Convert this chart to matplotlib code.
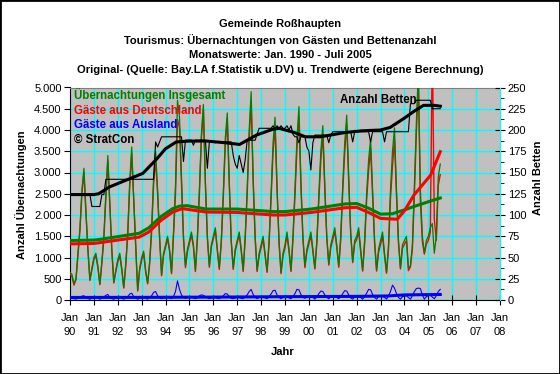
import matplotlib.pyplot as plt
import numpy as np
import pandas as pd
from matplotlib.ticker import FuncFormatter, MultipleLocator
from matplotlib.patches import Rectangle

plt.rcParams['font.family'] = ['Liberation Sans', 'DejaVu Sans']

# monthly values Jan 1990 - Jul 2005
months = pd.date_range('1990-01', '2005-07', freq='MS')

insgesamt = [
    650, 600, 380, 500, 1100, 1700, 2600, 3100, 2100, 1200, 480, 750,
    1000, 1100, 800, 380, 900, 1500, 2500, 3400, 2300, 1200, 420, 700,
    950, 1100, 750, 300, 850, 1600, 2800, 3600, 2400, 1300, 230, 750,
    1000, 1150, 700, 400, 900, 1700, 2900, 3500, 2600, 1500, 600, 1100,
    1300, 1500, 1200, 650, 1600, 2700, 4700, 4300, 2900, 1500, 800, 1200,
    1400, 1600, 1300, 700, 1500, 2600, 3900, 4600, 2800, 1500, 800, 1300,
    1500, 1700, 1200, 750, 1400, 2500, 3800, 4400, 2800, 1400, 750, 1200,
    1400, 1600, 1200, 700, 1500, 2600, 4000, 4900, 2900, 1500, 700, 1100,
    1300, 1500, 1100, 680, 1400, 2500, 3700, 4300, 2700, 1400, 650, 1100,
    1300, 1600, 1200, 700, 1500, 2600, 3800, 4550, 2800, 1500, 800, 1200,
    1400, 1600, 1200, 750, 1400, 2500, 3500, 4100, 2700, 1500, 850, 1300,
    1500, 1700, 1300, 800, 1500, 2700, 3700, 4350, 2900, 1600, 900, 1400,
    1500, 1700, 1200, 700, 1400, 2500, 3300, 3800, 2600, 1400, 700, 1200,
    1400, 1600, 1100, 650, 1300, 2600, 3500, 4050, 2600, 1400, 750, 1300,
    1400, 1500, 750, 800, 1300, 2700, 4200, 5400, 2600, 1500, 1100, 1400,
    1500, 1700, 1800, 1100, 1500, 2900, 3200,
]

deutschland = [
    610, 550, 350, 480, 1060, 1640, 2510, 3000, 2040, 1170, 460, 710,
    950, 1040, 760, 360, 860, 1430, 2390, 3270, 2240, 1170, 400, 660,
    900, 1040, 710, 280, 800, 1520, 2660, 3440, 2320, 1260, 210, 710,
    940, 1090, 660, 380, 840, 1600, 2720, 3300, 2500, 1450, 570, 1050,
    1240, 1440, 1150, 620, 1520, 2500, 4250, 4050, 2780, 1440, 760, 1140,
    1340, 1530, 1250, 670, 1440, 2500, 3780, 4490, 2720, 1450, 770, 1250,
    1450, 1640, 1160, 720, 1340, 2400, 3650, 4260, 2720, 1360, 720, 1150,
    1340, 1540, 1160, 670, 1430, 2480, 3800, 4650, 2770, 1440, 670, 1040,
    1230, 1430, 1050, 650, 1320, 2360, 3480, 4070, 2580, 1340, 620, 1040,
    1230, 1520, 1150, 670, 1420, 2450, 3550, 4310, 2670, 1440, 760, 1130,
    1320, 1520, 1140, 730, 1330, 2350, 3290, 3900, 2580, 1440, 820, 1230,
    1420, 1610, 1240, 770, 1420, 2550, 3480, 4140, 2780, 1550, 880, 1330,
    1420, 1610, 1140, 680, 1320, 2340, 3050, 3560, 2470, 1340, 680, 1120,
    1310, 1500, 1040, 630, 1200, 2400, 3150, 3770, 2450, 1340, 730, 1220,
    1310, 1400, 690, 780, 1200, 2500, 3930, 5120, 2330, 1380, 1080, 1320,
    1400, 1590, 6000, 1900, 1400, 2700, 2950,
]

ausland = [
    40, 50, 30, 20, 40, 60, 90, 100, 60, 30, 20, 40,
    50, 60, 40, 20, 40, 70, 110, 130, 60, 30, 20, 40,
    50, 60, 40, 20, 50, 80, 140, 160, 80, 40, 20, 40,
    60, 60, 40, 20, 60, 100, 180, 200, 100, 50, 30, 50,
    60, 60, 50, 30, 80, 200, 450, 250, 120, 60, 40, 60,
    60, 70, 50, 30, 60, 100, 120, 110, 80, 50, 30, 50,
    50, 60, 40, 30, 60, 100, 150, 140, 80, 40, 30, 50,
    60, 60, 40, 30, 70, 120, 200, 250, 130, 60, 30, 60,
    70, 70, 50, 30, 80, 140, 220, 230, 120, 60, 30, 60,
    70, 80, 50, 30, 80, 150, 250, 240, 130, 60, 40, 70,
    80, 80, 60, 20, 70, 150, 210, 200, 120, 60, 30, 70,
    80, 90, 60, 30, 80, 150, 220, 210, 120, 50, 20, 70,
    80, 90, 60, 20, 80, 160, 250, 240, 130, 60, 20, 80,
    90, 100, 60, 20, 100, 200, 350, 280, 150, 60, 20, 80,
    90, 100, 60, 20, 100, 200, 270, 280, 270, 120, 20, 80,
    100, 110, 70, 30, 100, 200, 250,
]

betten = [
    124, 124, 124, 124, 124, 124, 124, 124, 124, 124, 124, 110,
    110, 110, 110, 110, 124, 124, 142, 142, 142, 142, 142, 142,
    142, 142, 142, 142, 142, 142, 142, 142, 142, 142, 142, 142,
    142, 142, 142, 142, 142, 142, 142, 186, 180, 186, 192, 192,
    192, 192, 192, 192, 192, 192, 192, 192, 192, 163, 188, 188,
    188, 188, 182, 188, 188, 188, 188, 188, 188, 155, 186, 186,
    186, 185, 186, 186, 186, 186, 186, 186, 186, 186, 170, 160,
    155, 170, 160, 150, 165, 188, 188, 188, 188, 188, 195, 202,
    202, 202, 202, 202, 202, 202, 205, 200, 205, 202, 205, 202,
    202, 205, 200, 205, 195, 192, 192, 185, 192, 192, 192, 180,
    175, 153, 185, 194, 194, 194, 194, 194, 194, 194, 185, 194,
    198, 198, 198, 198, 198, 198, 198, 198, 198, 198, 186, 198,
    198, 198, 198, 198, 198, 198, 198, 186, 198, 198, 198, 198,
    198, 198, 186, 198, 198, 198, 198, 198, 198, 198, 198, 198,
    198, 198, 198, 231, 231, 231, 235, 235, 235, 235, 235, 235,
    235, 235, 225, 225, 225, 225, 225,
]

# trend values (eigene Berechnung), read at these dates
trend_x_ins = [1990.0, 1991.0, 1991.3, 1992.1, 1992.9, 1993.3, 1993.8, 1994.3, 1994.6,
               1994.9, 1995.7, 1997.0, 1998.5, 1999.0, 2000.1, 2001.5, 2002.0, 2002.5,
               2003.0, 2003.5, 2004.0, 2004.4, 2005.1, 2005.5]
trend_ins = [1400, 1410, 1430, 1500, 1570, 1700, 1960, 2150, 2210,
             2220, 2140, 2140, 2080, 2080, 2140, 2260, 2270, 2160,
             2020, 2030, 2120, 2200, 2330, 2400]

trend_x_de = [1990.0, 1991.0, 1992.0, 1992.9, 1993.3, 1993.8, 1994.3, 1994.7, 1995.7,
              1997.0, 1998.5, 1999.0, 2000.1, 2001.5, 2002.0, 2002.5, 2003.0, 2003.7,
              2004.0, 2004.4, 2005.1, 2005.5]
trend_de = [1320, 1330, 1410, 1480, 1600, 1870, 2070, 2150, 2070,
            2060, 2000, 2000, 2060, 2170, 2180, 2060, 1920, 1900,
            2100, 2470, 2940, 3490]

trend_x_aus = [1990.0, 1993.0, 1996.0, 1999.0, 2002.0, 2003.3, 2004.0, 2005.5]
trend_aus = [60, 62, 68, 78, 85, 95, 120, 130]

trend_x_bet = [1990.0, 1991.0, 1991.2, 1991.65, 1992.35, 1993.05, 1993.6, 1994.0, 1994.45,
               1995.0, 1995.7, 1996.5, 1997.1, 1997.8, 1998.5, 1998.75, 1999.4, 1999.85,
               2000.5, 2001.5, 2002.2, 2003.0, 2003.4, 2004.0, 2004.4, 2004.8, 2005.25, 2005.5]
trend_bet = [124, 124, 125, 133, 141, 149, 165, 178, 186,
             187, 187, 185, 183, 194, 201, 202, 197, 192,
             192, 197, 199, 200, 203, 214, 222, 229, 229, 228]

year_ticks = list(range(1990, 2009))

t = months.year + (months.month - 1) / 12

W, H = 560, 374
fig = plt.figure(figsize=(W / 100, H / 100), dpi=100)
ax = fig.add_axes([70 / W, 1 - 300 / H, 430 / W, 212.5 / H])
ax.set_facecolor('#C0C0C0')

ax.plot(t, deutschland, color='#FF0000', lw=1.0, zorder=3)
ax.plot(t, insgesamt, color='#008000', lw=0.9, zorder=4)
ax.plot(t, ausland, color='#0000FF', lw=0.8, zorder=4)
ax.plot(trend_x_ins, trend_ins, color='#008000', lw=2.2, zorder=5)
ax.plot(trend_x_de, trend_de, color='#FF0000', lw=2.2, zorder=5)
ax.plot(trend_x_aus, trend_aus, color='#0000FF', lw=2.2, zorder=5)

ax.set_xlim(1990, 2008)
ax.set_ylim(0, 5000)
ax.set_xticks(year_ticks)
ax.set_xticklabels(['Jan\n%02d' % (y % 100) for y in year_ticks], fontsize=8, linespacing=1.5)
ax.yaxis.set_major_locator(MultipleLocator(500))
ax.yaxis.set_major_formatter(FuncFormatter(lambda v, p: f'{int(v):,}'.replace(',', '.')))
ax.tick_params(axis='y', labelsize=8, direction='out', length=4, pad=2)
ax.tick_params(axis='x', direction='inout', length=7, pad=6)
ax.grid(True, color='#00FFFF', lw=1)
ax.set_axisbelow(True)
for side in ['left', 'bottom']:
    ax.spines[side].set_color('black')
ax.spines['top'].set_color('#808080')
ax.spines['right'].set_visible(False)

ax2 = ax.twinx()
ax2.plot(t, betten, color='black', lw=0.8, zorder=3)
ax2.plot(trend_x_bet, trend_bet, color='black', lw=2.2, zorder=4)
ax2.set_ylim(0, 250)
ax2.yaxis.set_major_locator(MultipleLocator(25))
ax2.yaxis.set_minor_locator(MultipleLocator(12.5))
ax2.tick_params(axis='y', which='major', labelsize=8, direction='inout', length=7, pad=2)
ax2.tick_params(axis='y', which='minor', direction='out', length=3)
ax2.spines['right'].set_color('#00FFFF')
for side in ['left', 'top', 'bottom']:
    ax2.spines[side].set_visible(False)

def fy(y):
    return 1 - y / H

fig.text(280 / W, fy(24), 'Gemeinde Roßhaupten', ha='center', va='center', fontsize=8, fontweight='bold')
fig.text(280 / W, fy(40), 'Tourismus: Übernachtungen von Gästen und Bettenanzahl', ha='center', va='center', fontsize=8, fontweight='bold')
fig.text(280 / W, fy(55), 'Monatswerte: Jan. 1990 - Juli 2005', ha='center', va='center', fontsize=8, fontweight='bold')
fig.text(280 / W, fy(70), 'Original- (Quelle: Bay.LA f.Statistik u.DV) u. Trendwerte (eigene Berechnung)', ha='center', va='center', fontsize=8, fontweight='bold')

fig.text(74 / W, fy(95), 'Übernachtungen Insgesamt', color='#008000', ha='left', va='center', fontsize=8.3, fontweight='bold')
fig.text(74 / W, fy(110.5), 'Gäste aus Deutschland', color='#FF0000', ha='left', va='center', fontsize=8.3, fontweight='bold')
fig.text(74 / W, fy(125), 'Gäste aus Ausland', color='#0000FF', ha='left', va='center', fontsize=8.3, fontweight='bold')
fig.text(74 / W, fy(139.5), '© StratCon', color='black', ha='left', va='center', fontsize=8.3, fontweight='bold')
fig.text(340 / W, fy(100), 'Anzahl Betten', color='black', ha='left', va='center', fontsize=8.3, fontweight='bold')

fig.text(21.5 / W, fy(195), 'Anzahl Übernachtungen', rotation=90, ha='center', va='center', fontsize=8, fontweight='bold')
fig.text(538 / W, fy(178), 'Anzahl Betten', rotation=90, ha='center', va='center', fontsize=8, fontweight='bold')
fig.text(283 / W, fy(352), 'Jahr', ha='center', va='center', fontsize=8, fontweight='bold')

fig.add_artist(Rectangle((0, 0), 1, 1, transform=fig.transFigure, fill=False, ec='black', lw=2))

fig.savefig('out.png', dpi=100)
